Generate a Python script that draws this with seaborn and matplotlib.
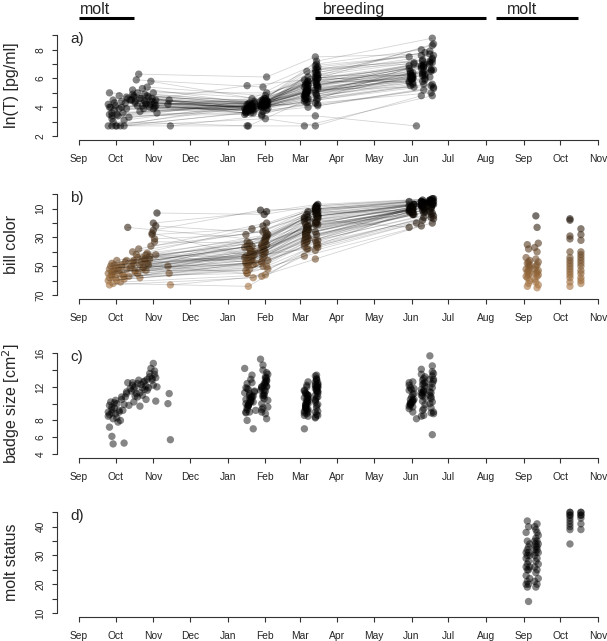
import numpy as np
import pandas as pd
import matplotlib
matplotlib.use('Agg')
import matplotlib.pyplot as plt
import seaborn as sns
from matplotlib.colors import LinearSegmentedColormap


START = pd.Timestamp('2010-09-01')
END = pd.Timestamp('2011-11-01')

# days since 1 Sep, one entry per bird; same bird index across sessions
aut_day = [24, 24, 25, 25, 26, 27, 27, 28, 28, 29, 30, 31, 32, 33, 34, 35, 36, 37, 38, 39, 40, 41, 43, 44,
           45, 46, 47, 48, 49, 50, 51, 52, 53, 54, 55, 56, 57, 58, 59, 60, 61, 61, 62, 63, 64, 73, 75, 74,
           25, 27, 29, 31, 33, 35, 37, 39, 42, 44, 46, 48, 50, 52, 54, 56, 58, 60, 62, 27, 30, 45, 55, 63]
aut_T = [4.2, 2.7, 5.0, 3.5, 4.0, 2.7, 3.2, 4.5, 3.0, 3.8, 2.7, 3.5, 3.4, 4.8, 2.7, 4.0, 3.6, 2.7, 4.3, 3.9, 4.6, 3.3, 4.5, 5.2,
         4.8, 4.4, 5.9, 4.1, 6.3, 3.7, 4.6, 5.3, 3.9, 4.9, 4.2, 5.4, 4.7, 4.0, 5.8, 4.4, 3.9, 5.0, 4.3, 4.5, 3.6, 4.2, 2.7, 4.5,
         4.0, 3.6, 4.3, 2.7, 3.9, 4.4, 3.1, 4.7, 4.5, 4.9, 4.3, 5.0, 4.6, 4.1, 4.4, 4.8, 4.2, 4.6, 4.0, 3.4, 4.1, 4.7, 4.3, 4.1]
aut_bill = [55, 60, 52, 63, 50, 57, 48, 54, 62, 53, 58, 46, 51, 55, 61, 49, 56, 59, 47, 52, 23, 57, 50, 40,
            48, 53, 42, 55, 38, 58, 47, 44, 51, 46, 53, 41, 49, 45, 36, 28, 25, 20, 31, 42, 13, 50, 63, 55,
            58, 54, 49, 60, 53, 50, 57, 46, 51, 47, 54, 44, 49, 52, 45, 48, 43, 27, 33, 56, 51, 46, 42, 22]
aut_badge = [9.0, 8.5, 9.8, 7.2, 10.2, 6.1, 9.3, 8.2, 5.2, 9.5, 8.8, 10.0, 7.8, 9.0, 8.0, 10.5, 9.2, 5.3, 10.8, 11.2, 12.5, 9.8, 11.5, 12.5,
             10.2, 12.0, 11.2, 10.8, 12.8, 9.7, 12.3, 11.0, 12.6, 11.7, 10.5, 12.9, 11.9, 13.6, 14.2, 13.0, 14.8, 12.2, 13.5, 10.3, 12.0, 10.0, 5.7, 11.2,
             8.7, 9.6, 10.1, 8.3, 9.2, 10.8, 9.9, 11.4, 11.8, 12.2, 10.9, 12.4, 11.3, 11.9, 12.7, 11.6, 13.2, 12.8, 13.9, 8.9, 10.4, 11.7, 12.1, 13.1]

win_day = [137, 140, 152, 143, 150, 138, 154, 141, 139, 144, 151, 155, 136, 140, 153, 142, 150, 154, 138, 141, 152, 145, 149, 153,
           137, 139, 151, 143, 154, 155, 136, 140, 152, 144, 150, 153, 138, 141, 151, 142, 149, 154, 137, 139, 152, 143, 150, 155,
           138, 141, 151, 153, 137, 140, 152, 154, 139, 142, 150, 153, 138, 141, 151, 154, 137, 140, 152, 153, 139, 142, 150, 154]
win_T = [3.8, 4.0, 4.2, 3.6, 4.5, 2.7, 4.1, 3.9, 2.7, 4.3, 3.7, 4.4, 3.5, 4.0, 3.2, 4.6, 4.0, 3.8, 5.5, 3.6, 4.3, 3.9, 4.2, 4.6,
         3.7, 4.0, 5.4, 3.8, 6.1, 4.2, 3.9, 4.3, 4.0, 4.4, 3.5, 4.8, 4.2, 3.8, 4.5, 3.9, 4.1, 5.0, 3.6, 4.2, 4.6, 4.0, 3.4, 3.9,
         3.9, 4.1, 4.2, 4.4, 3.8, 4.0, 4.3, 4.5, 3.7, 4.2, 4.0, 4.3, 3.9, 4.1, 4.4, 4.2, 3.6, 4.0, 4.1, 4.3, 3.8, 3.9, 4.2, 4.4]
win_bill = [48, 52, 40, 58, 35, 55, 30, 45, 64, 42, 50, 28, 44, 38, 56, 36, 47, 50, 33, 41, 32, 48, 39, 25,
            43, 46, 22, 49, 20, 52, 37, 34, 43, 40, 47, 30, 36, 39, 26, 24, 11, 12, 28, 44, 14, 41, 57, 46,
            50, 46, 44, 40, 53, 42, 38, 35, 48, 45, 41, 33, 55, 39, 37, 29, 47, 43, 34, 31, 49, 44, 36, 27]
win_badge = [10.0, 9.0, 11.0, 7.0, 12.0, 8.0, 12.8, 10.5, 9.8, 11.5, 9.5, 13.5, 14.2, 11.2, 8.8, 12.5, 10.0, 8.2, 11.8, 10.8, 12.2, 9.2, 11.6, 13.0,
             10.5, 9.8, 14.0, 10.2, 12.7, 9.6, 11.3, 11.0, 10.6, 11.4, 9.3, 13.2, 12.4, 12.9, 14.6, 13.4, 15.3, 12.0, 11.9, 11.7, 12.4, 10.9, 9.0, 10.4,
             9.3, 10.2, 10.8, 11.5, 9.0, 10.6, 11.2, 12.1, 9.7, 10.9, 11.8, 12.4, 9.5, 10.3, 11.0, 13.1, 8.9, 10.1, 11.6, 12.6, 9.9, 10.7, 12.0, 13.7]

mar_day = [186, 187, 194, 188, 195, 185, 196, 187, 195, 188, 194, 196, 186, 188, 194, 187, 195, 196, 185, 187, 194, 188, 196, 195,
           186, 187, 195, 188, 194, 196, 185, 188, 194, 187, 195, 196, 186, 187, 194, 188, 195, 196, 185, 186, 195, 188, 194, 196,
           186, 187, 195, 196, 185, 188, 194, 195, 186, 187, 196, 194, 185, 188, 195, 196, 186, 187, 194, 195, 185, 188, 196, 194]
mar_T = [4.5, 5.0, 6.0, 4.0, 5.5, 2.7, 6.8, 5.2, 4.8, 5.8, 4.3, 6.2, 4.7, 5.6, 2.7, 6.5, 4.9, 4.2, 5.9, 5.1, 6.6, 4.4, 5.3, 7.2,
         4.9, 5.0, 7.0, 4.6, 7.5, 4.1, 5.4, 6.1, 5.0, 5.7, 4.5, 6.3, 5.6, 5.3, 6.9, 5.8, 6.4, 6.0, 4.8, 5.5, 6.7, 5.1, 3.4, 4.6,
         5.0, 4.7, 5.6, 6.0, 4.4, 5.3, 5.8, 6.2, 4.9, 5.1, 5.5, 6.4, 4.6, 5.2, 5.9, 5.4, 5.1, 4.3, 6.1, 5.7, 4.8, 5.5, 6.6, 5.2]
mar_bill = [30, 33, 20, 38, 15, 43, 12, 25, 36, 18, 32, 10, 26, 22, 45, 14, 28, 35, 17, 24, 13, 30, 21, 8,
            27, 29, 10, 31, 9, 37, 19, 16, 26, 23, 34, 15, 21, 23, 11, 12, 10, 7, 16, 27, 8, 25, 39, 32,
            28, 33, 20, 15, 36, 25, 18, 13, 31, 27, 16, 11, 34, 22, 19, 14, 29, 38, 21, 12, 32, 24, 17, 10]
mar_badge = [9.5, 8.8, 10.5, 8.5, 11.5, 7.0, 12.0, 10.0, 9.5, 11.0, 9.0, 12.5, 10.0, 11.0, 8.3, 12.0, 9.8, 8.6, 11.5, 10.3, 11.8, 9.0, 10.8, 13.0,
             9.7, 9.4, 12.8, 9.3, 12.3, 9.1, 10.7, 10.6, 10.2, 11.1, 8.7, 11.9, 11.3, 12.2, 13.3, 12.6, 13.4, 12.2, 11.6, 11.2, 12.0, 10.5, 8.4, 9.9,
             9.6, 10.1, 10.7, 11.4, 8.9, 10.3, 11.0, 11.9, 9.4, 10.6, 11.2, 12.6, 9.1, 10.0, 11.6, 12.3, 9.8, 9.2, 10.4, 12.9, 8.6, 10.8, 11.5, 12.1]

jun_day = [272, 274, 281, 283, 288, 290, 271, 274, 282, 283, 289, 290, 272, 275, 281, 284, 288, 291, 271, 273, 282, 283, 289, 290,
           272, 274, 281, 284, 288, 291, 271, 275, 282, 283, 289, 290, 272, 274, 281, 283, 288, 291, 273, 274, 282, 284, 277, 290,
           272, 274, 282, 283, 289, 290, 271, 273, 281, 284, 288, 291, 272, 275, 282, 283, 289, 290, 271, 274, 281, 284, 288, 291]
jun_T = [5.5, 6.0, 6.8, 5.2, 7.2, 4.8, 7.5, 6.2, 5.8, 6.5, 5.0, 8.3, 6.4, 7.0, 4.8, 7.8, 6.1, 5.3, 6.9, 5.9, 7.3, 5.6, 6.6, 8.8,
         6.3, 5.7, 8.0, 6.0, 7.7, 5.4, 6.7, 7.1, 6.2, 6.8, 5.5, 7.4, 6.5, 6.1, 7.6, 7.0, 7.9, 8.4, 6.0, 6.4, 7.2, 6.3, 2.7, 5.6,
         6.0, 5.6, 6.4, 6.9, 6.6, 7.1, 5.8, 6.2, 6.7, 5.9, 7.0, 7.6, 6.1, 5.4, 6.3, 6.8, 6.5, 7.3, 5.7, 6.0, 6.9, 6.2, 7.1, 6.6]
jun_bill = [12, 14, 8, 16, 6, 20, 5, 10, 18, 9, 14, 4, 11, 7, 22, 6, 12, 15, 23, 10, 6, 13, 9, 3,
            11, 14, 5, 12, 4, 17, 8, 7, 11, 10, 16, 7, 9, 10, 5, 6, 4, 3, 8, 12, 4, 11, 20, 13,
            10, 13, 8, 6, 9, 7, 11, 12, 7, 9, 6, 5, 10, 14, 8, 7, 10, 6, 12, 11, 8, 9, 5, 7]
jun_badge = [9.8, 9.0, 11.0, 8.6, 12.0, 6.3, 12.5, 10.4, 9.2, 11.5, 9.5, 13.8, 10.5, 11.2, 8.5, 13.2, 10.0, 8.8, 12.2, 10.8, 12.8, 9.4, 11.3, 14.5,
             10.1, 9.6, 13.5, 9.9, 12.9, 9.0, 11.6, 11.8, 10.3, 11.4, 8.9, 12.4, 11.9, 12.6, 14.1, 13.0, 15.7, 12.7, 11.7, 11.1, 12.3, 10.7, 8.2, 10.2,
             9.9, 10.4, 10.9, 11.6, 10.6, 11.9, 9.7, 10.1, 11.3, 12.1, 11.0, 12.9, 10.0, 10.5, 11.2, 12.4, 10.8, 13.3, 9.4, 10.2, 11.7, 12.5, 11.4, 13.6]

# second autumn: bill color and molt status (no repeated-measure lines)
sep2_bill_day = [368, 369, 367, 370, 368, 369, 370, 367, 369, 368, 370, 369, 367, 368, 370, 369, 368, 369, 370,
                 375, 376, 377, 374, 376, 375, 377, 376, 375, 374, 377, 376, 375, 377, 376, 374, 375, 377, 376]
sep2_bill = [35, 38, 44, 46, 48, 50, 51, 52, 53, 54, 55, 56, 57, 58, 60, 62, 64, 47, 49,
             15, 23, 34, 37, 40, 45, 47, 49, 50, 52, 53, 54, 55, 56, 57, 59, 61, 63, 65]
oct2_bill_day = [403, 403, 403, 403, 403, 403, 403, 403, 403, 403, 403, 403, 403, 403, 403,
                 412, 412, 412, 412, 412, 412, 412, 412, 412, 412, 412, 412, 412, 412]
oct2_bill = [17, 18, 29, 31, 40, 44, 46, 48, 50, 52, 54, 56, 58, 61, 64,
             24, 28, 32, 40, 42, 44, 46, 48, 50, 53, 55, 58, 60, 62]

sep2_molt_day = [369, 368, 367, 369, 368, 370, 367, 368, 369, 367, 370, 368, 369, 367, 368, 370, 369, 367, 368, 369, 370, 368, 367, 369, 368,
                 375, 376, 374, 377, 375, 376, 374, 377, 375, 376, 374, 375, 377, 376, 374, 375, 376, 377, 375, 374, 376, 375, 377, 376, 375, 374, 376]
sep2_molt = [14, 19, 20, 20, 21, 22, 23, 25, 25, 26, 26, 27, 28, 29, 30, 30, 31, 31, 32, 33, 34, 35, 38, 40, 42,
             19, 20, 21, 22, 24, 25, 26, 27, 28, 29, 30, 31, 31, 32, 32, 33, 33, 34, 34, 35, 35, 36, 37, 38, 39, 40, 41]
oct2_molt_day = [403, 403, 403, 403, 403, 403, 403, 403, 403, 403, 412, 412, 412, 412, 412, 412, 412]
oct2_molt = [34, 39, 40, 41, 42, 43, 44, 44, 45, 45, 39, 41, 43, 44, 44, 45, 45]

# life-history periods drawn above panel a
period_label = ['molt', 'breeding', 'molt']
period_start = [0, 194, 342]
period_end = [45, 334, 410]
period_text_day = [1, 200, 351]


sns.set_style('ticks')
plt.rcParams['font.family'] = ['Liberation Sans', 'DejaVu Sans']

sessions = [(aut_day, aut_T, aut_bill, aut_badge), (win_day, win_T, win_bill, win_badge),
            (mar_day, mar_T, mar_bill, mar_badge), (jun_day, jun_T, jun_bill, jun_badge)]
birds = pd.concat([
    pd.DataFrame({'bird': np.arange(len(d)), 'day': d, 'T': t, 'bill': b, 'badge': g})
    for d, t, b, g in sessions], ignore_index=True)
year2_bill = pd.DataFrame({'day': sep2_bill_day + oct2_bill_day, 'bill': sep2_bill + oct2_bill})
year2_molt = pd.DataFrame({'day': sep2_molt_day + oct2_molt_day, 'molt': sep2_molt + oct2_molt})

months = pd.date_range(START, END, freq='MS')
month_days = (months - START).days
month_labels = months.strftime('%b')
span = month_days[-1]
pad = 0.043 * span

W, H = 607, 641
fig = plt.figure(figsize=(W / 100, H / 100), dpi=100)
left_px, right_px, panel_h = 56.7, 620.3, 108.7
bottoms_px = [140.0, 299.0, 458.0, 617.0]
axes = [fig.add_axes([left_px / W, 1 - b / H, (right_px - left_px) / W, panel_h / H]) for b in bottoms_px]

bill_cmap = LinearSegmentedColormap.from_list('bill', ['#000000', '#a87440'])
PT = dict(s=28, linewidth=0, edgecolor='none', legend=False)
LN = dict(units='bird', estimator=None, color='black', alpha=0.17, lw=0.6, legend=False)

# a) testosterone
ax = axes[0]
sns.lineplot(data=birds, x='day', y='T', ax=ax, **LN)
sns.scatterplot(data=birds, x='day', y='T', color='black', alpha=0.48, ax=ax, **PT)

# b) bill color
ax = axes[1]
sns.lineplot(data=birds, x='day', y='bill', ax=ax, **LN)
sns.scatterplot(data=birds, x='day', y='bill', hue='bill', palette=bill_cmap, hue_norm=(5, 65),
                alpha=0.6, ax=ax, **PT)
sns.scatterplot(data=year2_bill, x='day', y='bill', hue='bill', palette=bill_cmap, hue_norm=(5, 65),
                alpha=0.6, ax=ax, **PT)

# c) badge size
ax = axes[2]
sns.scatterplot(data=birds, x='day', y='badge', color='black', alpha=0.48, ax=ax, **PT)

# d) molt status
ax = axes[3]
sns.scatterplot(data=year2_molt, x='day', y='molt', color='black', alpha=0.48, ax=ax, **PT)

specs = [
    ('ln(T) [pg/ml]', 'a)', list(range(2, 10)), ['2', '', '4', '', '6', '', '8', ''], (2, 9), False),
    ('bill color', 'b)', list(range(0, 80, 10)), ['', '10', '', '30', '', '50', '', '70'], (0, 70), True),
    ('badge size [cm$^2$]', 'c)', list(range(4, 18, 2)), ['4', '6', '8', '', '12', '', '16'], (4, 16), False),
    ('molt status', 'd)', list(range(10, 50, 5)), ['10', '', '20', '', '30', '', '40', ''], (10, 45), False),
]
for ax, (ylabel, letter, yt, ytl, (lo, hi), flip) in zip(axes, specs):
    ypad = 0.04 * (hi - lo)
    ax.set_xlim(-pad, span + pad)
    if flip:
        ax.set_ylim(hi + ypad, lo - ypad)
    else:
        ax.set_ylim(lo - ypad, hi + ypad)
    ax.set_xticks(month_days)
    ax.set_xticklabels(month_labels)
    ax.set_yticks(yt)
    ax.set_yticklabels(ytl)
    ax.set_xlabel('')
    ax.set_ylabel(ylabel, fontsize=11.5, va='center')
    ax.yaxis.set_label_coords(-0.081, 0.5)
    for side in ['top', 'right']:
        ax.spines[side].set_visible(False)
    ax.spines['left'].set_bounds(lo, hi)
    ax.spines['bottom'].set_bounds(0, span)
    for side in ['left', 'bottom']:
        ax.spines[side].set_linewidth(0.8)
        ax.spines[side].set_color('#333333')
    ax.tick_params(axis='x', length=3.6, width=0.8, color='#333333', labelsize=7.4, pad=6.5)
    ax.tick_params(axis='y', length=3.6, width=0.8, color='#333333', labelsize=7.4, pad=4.5,
                   labelrotation=90)
    for lbl in ax.get_yticklabels():
        lbl.set_va('center')
    ax.text(0.024, 0.93, letter, transform=ax.transAxes, fontsize=11, ha='left', va='center')
    ax.set_facecolor('white')

# periods over the top panel
ax = axes[0]
trans = ax.get_xaxis_transform()
for lab, s, e, tx in zip(period_label, period_start, period_end, period_text_day):
    ax.plot([s, e], [1.122, 1.122], transform=trans, color='black', lw=2.2,
            solid_capstyle='butt', clip_on=False)
    ax.text(tx, 1.158, lab, transform=trans, fontsize=11.5, ha='left', va='baseline')

fig.savefig('out.png', dpi=100)
